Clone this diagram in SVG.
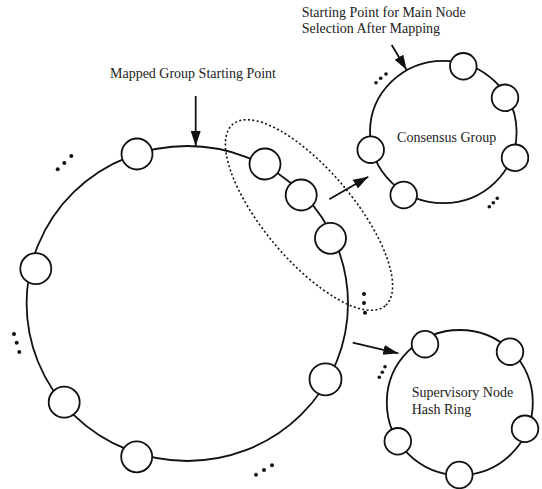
<svg xmlns="http://www.w3.org/2000/svg" width="542" height="489" viewBox="0 0 542 489">
  <style>
    .ring { fill: none; stroke: #111; stroke-width: 1.8; }
    .node circle { fill: #fff; stroke: #111; stroke-width: 1.8; }
    .lbl { font-family: "Liberation Serif", "Times New Roman", serif; font-size: 14px; fill: #222; }
    .dot { fill: #111; }
    .arrow { stroke: #111; stroke-width: 1.8; fill: none; marker-end: url(#ah); }
    .sel { fill: none; stroke: #111; stroke-width: 1.6; stroke-dasharray: 2 2.4; }
  </style>
  <defs>
    <marker id="ah" markerUnits="userSpaceOnUse" markerWidth="16" markerHeight="11" refX="15" refY="5" orient="auto">
      <path d="M0,0 L15,5 L0,10 Z" fill="#111"/>
    </marker>
  </defs>
  <rect width="542" height="489" fill="#fff"/>

  <!-- rings -->
  <g id="ring-main"><ellipse class="ring" cx="187.3" cy="303.5" rx="160.7" ry="157.5"/></g>
  <g id="ring-consensus"><ellipse class="ring" cx="443.3" cy="132" rx="73.3" ry="71.2"/></g>
  <g id="ring-supervisory"><ellipse class="ring" cx="459.8" cy="402.5" rx="73" ry="72.5"/></g>

  <!-- selection ellipse -->
  <g id="selection"><ellipse class="sel" cx="309" cy="215" rx="118.5" ry="45" transform="rotate(50 309 215)"/></g>

  <!-- main ring nodes -->
  <g id="m1" class="node"><circle cx="137" cy="154" r="15.5"/></g>
  <g id="m2" class="node"><circle cx="265" cy="164" r="15.5"/></g>
  <g id="m3" class="node"><circle cx="301.2" cy="195" r="15.5"/></g>
  <g id="m4" class="node"><circle cx="330.5" cy="238.3" r="15.5"/></g>
  <g id="m5" class="node"><circle cx="35.8" cy="268.7" r="15.5"/></g>
  <g id="m6" class="node"><circle cx="64.2" cy="402.2" r="15.5"/></g>
  <g id="m7" class="node"><circle cx="136.7" cy="456.8" r="15.5"/></g>
  <g id="m8" class="node"><circle cx="325.5" cy="379.3" r="16"/></g>

  <!-- consensus ring nodes -->
  <g id="c1" class="node"><circle cx="463.3" cy="66.3" r="13.3"/></g>
  <g id="c2" class="node"><circle cx="505" cy="97.8" r="13.3"/></g>
  <g id="c3" class="node"><circle cx="515" cy="157.8" r="13.3"/></g>
  <g id="c4" class="node"><circle cx="370.7" cy="149.7" r="13.3"/></g>
  <g id="c5" class="node"><circle cx="403.7" cy="195" r="13.3"/></g>

  <!-- supervisory ring nodes -->
  <g id="s1" class="node"><circle cx="425" cy="344.2" r="13.3"/></g>
  <g id="s2" class="node"><circle cx="510" cy="351.7" r="13.3"/></g>
  <g id="s3" class="node"><circle cx="525" cy="428.8" r="13.3"/></g>
  <g id="s4" class="node"><circle cx="397.8" cy="441.3" r="13.3"/></g>
  <g id="s5" class="node"><circle cx="459.3" cy="475" r="13.3"/></g>

  <!-- ellipsis dots -->
  <g id="dots">
    <circle class="dot" cx="57.7" cy="169.3" r="2"/><circle class="dot" cx="64.3" cy="163" r="2"/><circle class="dot" cx="71.3" cy="156" r="2"/>
    <circle class="dot" cx="14" cy="334" r="2"/><circle class="dot" cx="16.7" cy="342.7" r="2"/><circle class="dot" cx="19.3" cy="352" r="2"/>
    <circle class="dot" cx="256" cy="474.7" r="2"/><circle class="dot" cx="264" cy="470" r="2"/><circle class="dot" cx="272" cy="465.3" r="2"/>
    <circle class="dot" cx="364" cy="294" r="2"/><circle class="dot" cx="364" cy="303" r="2"/><circle class="dot" cx="365" cy="312.7" r="2"/>
    <circle class="dot" cx="376" cy="82.7" r="1.8"/><circle class="dot" cx="380.7" cy="78.3" r="1.8"/><circle class="dot" cx="386" cy="74" r="1.8"/>
    <circle class="dot" cx="489.3" cy="206.7" r="1.8"/><circle class="dot" cx="493.3" cy="202.7" r="1.8"/><circle class="dot" cx="497.3" cy="198.3" r="1.8"/>
    <circle class="dot" cx="379.3" cy="377.3" r="1.8"/><circle class="dot" cx="382.3" cy="372.3" r="1.8"/><circle class="dot" cx="385" cy="366.7" r="1.8"/>
  </g>

  <!-- connectors -->
  <g id="connectors">
    <line class="arrow" x1="195.7" y1="96" x2="195.7" y2="146"/>
    <line class="arrow" x1="391.7" y1="45" x2="406.7" y2="70"/>
    <line class="arrow" x1="329.3" y1="199.3" x2="368.3" y2="176.7"/>
    <line class="arrow" x1="352.7" y1="342.7" x2="398.3" y2="353.3"/>
  </g>

  <!-- labels -->
  <g id="labels">
    <text class="lbl" x="193" y="78.3" text-anchor="middle">Mapped Group Starting Point</text>
    <text class="lbl" x="301.7" y="17.3">Starting Point for Main Node</text>
    <text class="lbl" x="301.7" y="33.3">Selection After Mapping</text>
    <text class="lbl" x="446.7" y="141.7" text-anchor="middle">Consensus Group</text>
    <text class="lbl" x="411.7" y="397.3">Supervisory Node</text>
    <text class="lbl" x="411.7" y="414">Hash Ring</text>
  </g>
</svg>
